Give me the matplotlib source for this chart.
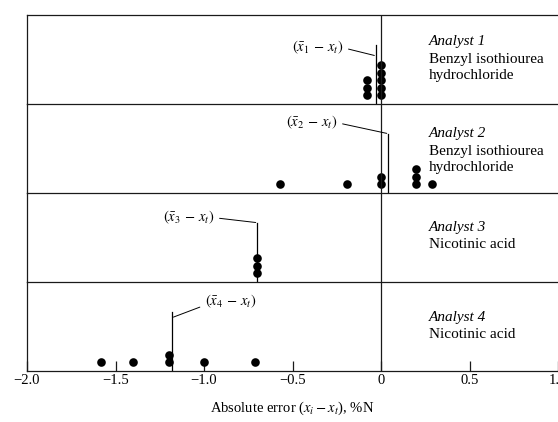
import matplotlib
matplotlib.use("Agg")
import matplotlib.pyplot as plt
import matplotlib.transforms as mtransforms
from collections import Counter

# Values (absolute error, %N)
analysts = ["Analyst 1", "Analyst 2", "Analyst 3", "Analyst 4"]
compounds = [["Benzyl isothiourea", "hydrochloride"],
             ["Benzyl isothiourea", "hydrochloride"],
             ["Nicotinic acid"],
             ["Nicotinic acid"]]
errors_1 = [-0.08, -0.08, -0.08, 0.0, 0.0, 0.0, 0.0, 0.0]
errors_2 = [-0.57, -0.19, 0.0, 0.0, 0.20, 0.20, 0.20, 0.29]
errors_3 = [-0.70, -0.70, -0.70]
errors_4 = [-1.58, -1.40, -1.20, -1.20, -1.00, -0.71]
mean_errors = [-0.03, 0.04, -0.70, -1.18]
mean_labels = [r"$(\bar{x}_1\,-\,x_t)$", r"$(\bar{x}_2\,-\,x_t)$",
               r"$(\bar{x}_3\,-\,x_t)$", r"$(\bar{x}_4\,-\,x_t)$"]
xticks = [-2.0, -1.5, -1.0, -0.5, 0.0, 0.5, 1.0]
xtick_labels = ["\u22122.0", "\u22121.5", "\u22121.0", "\u22120.5", "0", "0.5", "1.0"]

plt.rcParams["font.family"] = "serif"
plt.rcParams["font.serif"] = ["Liberation Serif", "DejaVu Serif"]
plt.rcParams["mathtext.fontset"] = "stix"

fig = plt.figure(figsize=(5.58, 4.22), dpi=100)
axes = fig.subplots(4, 1, sharex=True, gridspec_kw=dict(hspace=0))
fig.subplots_adjust(left=27 / 558, right=1.0, top=1 - 15 / 422, bottom=1 - 371 / 422)

all_errors = [errors_1, errors_2, errors_3, errors_4]
line_col = "#1a1a1a"
# annotation layout: (y of leader end on the mean line, text offset in points, ha)
leader = [(6.5, (-23.5, 5.8), "right"),
          (8.0, (-36.7, 7.9), "right"),
          (8.0, (-31.0, 3.6), "right"),
          (7.2, (23.8, 11.5), "left")]
text_top = [27, 30, 34, 35]

for i, ax in enumerate(axes):
    ax.patch.set_visible(False)
    ax.set_xlim(-2.0, 0.99)
    ax.set_ylim(0, 12)
    ax.set_yticks([])
    for side in ["left", "bottom", "top", "right"]:
        ax.spines[side].set_color(line_col)
        ax.spines[side].set_linewidth(0.9)
    ax.spines["right"].set_visible(False)
    if i > 0:
        ax.spines["top"].set_visible(False)

    # stack repeated values
    seen = Counter()
    xs, ys = [], []
    for v in all_errors[i]:
        xs.append(v)
        ys.append(1.2 + 1.0 * seen[v])
        seen[v] += 1
    ax.plot(xs, ys, "o", color="black", markersize=6.2, markeredgewidth=0)

    ax.axvline(0, color=line_col, lw=0.9)
    ax.plot([mean_errors[i], mean_errors[i]], [0, 8.0], color="black", lw=0.9)

    ly, off, ha = leader[i]
    ax.annotate(mean_labels[i], xy=(mean_errors[i], ly), xytext=off,
                textcoords="offset points", ha=ha, va="center", fontsize=10.5,
                arrowprops=dict(arrowstyle="-", lw=0.7, color="black",
                                shrinkA=2, shrinkB=1,
                                relpos=(1, 0.5) if ha == "right" else (0, 0.3)))

    trans = mtransforms.blended_transform_factory(ax.transData, ax.transAxes)
    ax.text(0.27, 1 - text_top[i] / 89, analysts[i], style="italic",
            fontsize=11, va="center", ha="left", transform=trans)
    for k, line in enumerate(compounds[i]):
        ax.text(0.27, 1 - (text_top[i] + 17 * (k + 1)) / 89, line,
                fontsize=11, va="center", ha="left", transform=trans)

    if i < 3:
        ax.tick_params(axis="x", length=0)

bottom = axes[-1]
bottom.set_xticks(xticks)
bottom.set_xticklabels(xtick_labels, fontsize=10.5)
bottom.tick_params(axis="x", direction="in", length=7, width=0.9, pad=2,
                   color=line_col)
bottom.set_xlabel(r"Absolute error ($x_i - x_t$), %N", fontsize=10.5, labelpad=9)

fig.savefig("out.png", dpi=100)
